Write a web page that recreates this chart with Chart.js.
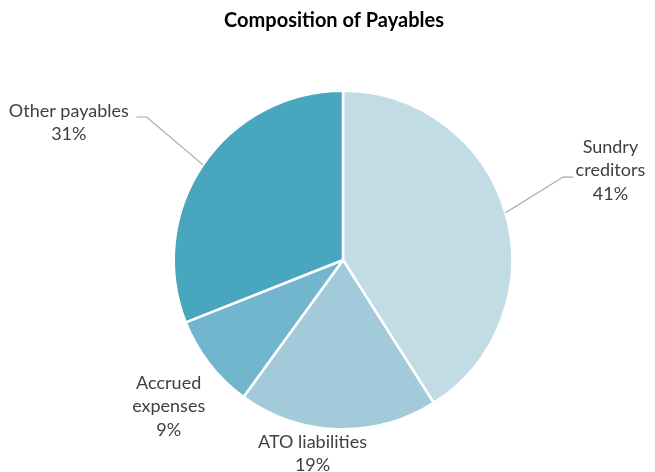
<!DOCTYPE html>
<html>
<head>
<meta charset="utf-8">
<script src="https://cdn.jsdelivr.net/npm/chart.js@4.4.1/dist/chart.umd.min.js"></script>
<style>
  html, body { margin: 0; padding: 0; background: #fff; }
  #wrap { width: 655px; height: 472px; position: relative; }
</style>
</head>
<body>
<div id="wrap"><canvas id="pieChart"></canvas></div>
<script>
const categories = ['Sundry creditors', 'ATO liabilities', 'Accrued expenses', 'Other payables'];
const shares = [41, 19, 9, 31];
const labelLines = [['Sundry', 'creditors'], ['ATO liabilities'], ['Accrued', 'expenses'], ['Other payables']];
const sliceColors = ['#c1dce4', '#a2cadb', '#71b6cc', '#48a6be'];

// where each label block sits, relative to the pie centre (in radii), and whether it gets a leader line
const labelLayout = [
    { dx: 1.58, dy: -0.53, leader: true, elbowX: 1.30, elbowY: -0.49, endX: 1.36 },
    { dx: -0.18, dy: 1.145, leader: false },
    { dx: -1.03, dy: 0.865, leader: false },
    { dx: -1.62, dy: -0.81, leader: true, elbowX: -1.16, elbowY: -0.845, endX: -1.22 }
];

const labelFont = '18px Lato, "Open Sans", sans-serif';
const lineGap = 23.5;

const pieLabels = {
    id: 'pieLabels',
    afterDraw(chart) {
        const ctx = chart.ctx;
        const meta = chart.getDatasetMeta(0);
        ctx.save();

        // title
        ctx.fillStyle = '#000';
        ctx.font = 'bold 20px Lato, "Open Sans", sans-serif';
        ctx.textAlign = 'center';
        ctx.textBaseline = 'middle';
        ctx.fillText('Composition of Payables', 334, 21);

        meta.data.forEach((arc, i) => {
            const { x, y, outerRadius, startAngle, endAngle } = arc.getProps(['x', 'y', 'outerRadius', 'startAngle', 'endAngle'], true);
            const mid = (startAngle + endAngle) / 2;
            const lay = labelLayout[i];
            const lines = labelLines[i].concat([shares[i] + '%']);
            const cx = x + lay.dx * outerRadius;
            const cy = y + lay.dy * outerRadius;

            if (lay.leader) {
                ctx.strokeStyle = '#a6a6a6';
                ctx.lineWidth = 1.2;
                ctx.beginPath();
                ctx.moveTo(x + Math.cos(mid) * outerRadius, y + Math.sin(mid) * outerRadius);
                ctx.lineTo(x + lay.elbowX * outerRadius, y + lay.elbowY * outerRadius);
                ctx.lineTo(x + lay.endX * outerRadius, y + lay.elbowY * outerRadius);
                ctx.stroke();
            }

            ctx.fillStyle = '#404040';
            ctx.font = labelFont;
            ctx.textAlign = 'center';
            ctx.textBaseline = 'middle';
            const top = cy - (lines.length - 1) * lineGap / 2;
            lines.forEach((t, k) => ctx.fillText(t, cx, top + k * lineGap));
        });
        ctx.restore();
    }
};

new Chart(document.getElementById('pieChart').getContext('2d'), {
    type: 'pie',
    data: {
        labels: categories,
        datasets: [{
            data: shares,
            backgroundColor: sliceColors,
            borderColor: '#ffffff',
            borderWidth: 2.5
        }]
    },
    options: {
        responsive: true,
        maintainAspectRatio: false,
        animation: false,
        layout: { padding: { top: 89.5, bottom: 41.5, left: 172.5, right: 141.5 } },
        plugins: {
            legend: { display: false },
            title: { display: false },
            tooltip: { enabled: false }
        }
    },
    plugins: [pieLabels]
});
</script>
</body>
</html>
